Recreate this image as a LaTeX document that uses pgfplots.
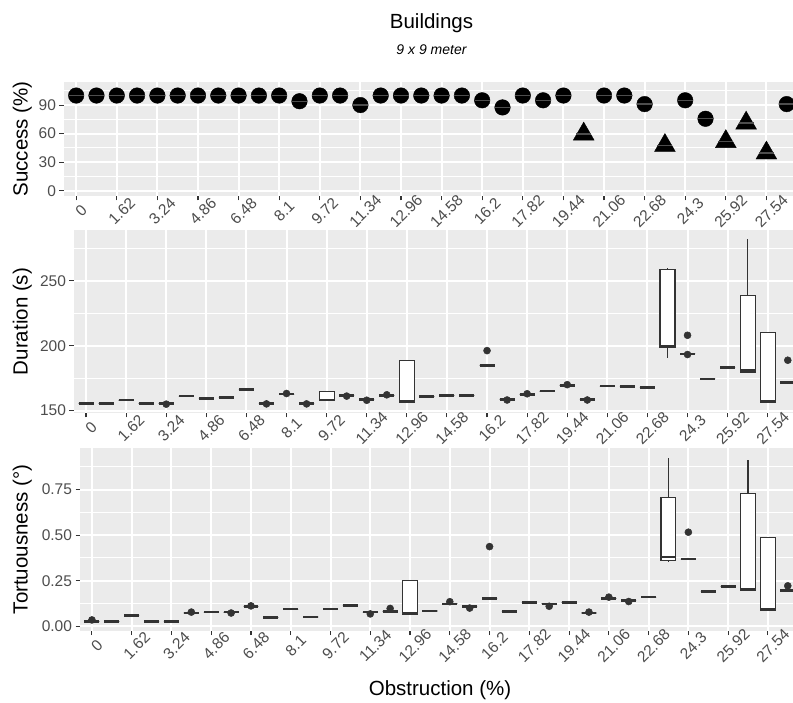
\documentclass[border=0pt]{standalone}
\usepackage{fontspec}
\setmainfont{Liberation Sans}
\usepackage{pgfplots}
\pgfplotsset{compat=1.18}
\usepgfplotslibrary{statistics}
\definecolor{ggbg}{HTML}{EBEBEB}
\definecolor{gg20}{HTML}{333333}
\definecolor{gg30}{HTML}{4D4D4D}
\pgfplotsset{
  ggbase/.style={
    scale only axis,
    anchor=south west,
    xmin=-0.6, xmax=35.6,
    axis background/.style={fill=ggbg},
    axis line style={draw=none},
    tick pos=left,
    tick align=outside,
    major tick length=4.5pt,
    minor tick length=0pt,
    tick style={gg20, line width=1.1pt},
    xmajorgrids, ymajorgrids, yminorgrids,
    major grid style={white, line width=2pt},
    minor grid style={white, line width=1pt},
    xtick={0,2,...,34},
    xticklabels={0,1.62,3.24,4.86,6.48,8.1,9.72,11.34,12.96,14.58,16.2,17.82,19.44,21.06,22.68,24.3,25.92,27.54},
    tick label style={font=\fontsize{15.5}{18}\selectfont, text=gg30},
    x tick label style={xshift=5pt, yshift=-10.5pt, rotate=45, anchor=center},
    y tick label style={anchor=east},
  },
  bxs/.style={draw=gg20, fill=white, line width=1.1pt, solid,
    mark=*, mark size=3.5pt, mark options={fill=gg20, draw=gg20, solid, line width=0.5pt},
    boxplot/draw direction=y,
    boxplot/box extend=0.75, boxplot/whisker extend=0,
    boxplot/every median/.style={line width=2.6pt}},
}
\newcommand{\bb}[6]{\addplot[bxs, boxplot prepared={draw position=#1, lower whisker=#2, lower quartile=#3, median=#4, upper quartile=#5, upper whisker=#6}] coordinates {};}
\newcommand{\bbo}[7]{\addplot[bxs, boxplot prepared={draw position=#1, lower whisker=#2, lower quartile=#3, median=#4, upper quartile=#5, upper whisker=#6}] table[row sep=\\, y index=0] {v\\ #7};}
\newcommand{\bs}[2]{\bb{#1}{#2}{#2}{#2}{#2}{#2}}
\newcommand{\bso}[3]{\bbo{#1}{#2}{#2}{#2}{#2}{#2}{#3}}
\begin{document}
\begin{tikzpicture}[x=1pt,y=1pt]
\useasboundingbox (0,0) rectangle (793,702);
\clip (0,0) rectangle (793,702);
\fill[white] (0,0) rectangle (793,702);
% titles
\node[anchor=base, font=\fontsize{20.5}{24}\selectfont] at (431.5,673.7) {Buildings};
\node[anchor=base, font=\fontsize{14}{17}\selectfont\itshape] at (431.5,647.7) {9 x 9 meter};
\node[anchor=base, rotate=90, font=\fontsize{20.5}{24}\selectfont] at (27.7,563) {Success (\%)};
\node[anchor=base, rotate=90, font=\fontsize{20.5}{24}\selectfont] at (27.7,380.5) {Duration (s)};
\node[anchor=base, rotate=90, font=\fontsize{20.5}{24}\selectfont] at (27.7,162.5) {Tortuousness (°)};
\node[anchor=base, font=\fontsize{20.5}{24}\selectfont] at (440,7) {Obstruction (\%)};

% ---------- Success ----------
\begin{axis}[ggbase, at={(64pt,506pt)}, width=734.9pt, height=113.7pt,
  ymin=-5.5, ymax=113.9, ytick={0,30,60,90}, yticklabels={0,30,60,90},
  minor ytick={15,45,75,105}]
\addplot[only marks, mark=*, mark size=7.8pt, mark options={fill=black, draw=black}] coordinates {
(0,100) (1,100) (2,100) (3,100) (4,100) (5,100) (6,100) (7,100) (8,100) (9,100) (10,100)
(11,94) (12,100) (13,100) (14,90) (15,100) (16,100) (17,100) (18,100) (19,100)
(20,95) (21,87.5) (22,100) (23,95) (24,100) (26,100) (27,100) (28,91)
(30,95) (31,75.6) (35,91)};
\addplot[only marks, mark=triangle*, mark size=12pt, mark options={fill=black, draw=black}] coordinates {
(25,59.5) (29,47.5) (32,51.6) (33,71) (34,39.6)};
\addplot[only marks, mark=-, mark size=7.5pt, mark options={draw=gg30, line width=1.4pt}] coordinates {
(0,100) (1,100) (2,100) (3,100) (4,100) (5,100) (6,100) (7,100) (8,100) (9,100) (10,100)
(11,94) (12,100) (13,100) (14,90) (15,100) (16,100) (17,100) (18,100) (19,100)
(20,95) (21,87.5) (22,100) (23,95) (24,100) (26,100) (27,100) (28,91)
(30,95) (31,75.6) (35,91)
(25,59.5) (29,47.5) (32,51.6) (33,71) (34,39.6)};
\end{axis}

% ---------- Duration ----------
\begin{axis}[ggbase, at={(74pt,289pt)}, width=725.8pt, height=183pt,
  ymin=148.2, ymax=289, ytick={150,200,250}, yticklabels={150,200,250},
  minor ytick={175,225,275}]
\bs{0}{155.4}
\bs{1}{155.4}
\bs{2}{158.1}
\bs{3}{155.4}
\bso{4}{155.4}{155.0\\}
\bs{5}{161.2}
\bs{6}{159.4}
\bs{7}{160.0}
\bs{8}{166.3}
\bso{9}{155.6}{155.2\\}
\bso{10}{162.7}{163.2\\}
\bso{11}{155.6}{155.2\\}
\bb{12}{157.9}{157.9}{158.2}{164.6}{164.6}
\bso{13}{161.7}{161.2\\}
\bso{14}{158.7}{158.0\\}
\bso{15}{161.7}{162.2\\}
\bb{16}{156.6}{156.6}{156.9}{188.8}{188.8}
\bs{17}{160.7}
\bs{18}{161.7}
\bs{19}{161.7}
\bso{20}{184.7}{196.2\\}
\bso{21}{158.7}{158.2\\}
\bso{22}{162.5}{163.0\\}
\bs{23}{165.0}
\bso{24}{169.4}{170.0\\}
\bso{25}{158.7}{158.2\\}
\bs{26}{168.9}
\bs{27}{168.4}
\bs{28}{167.9}
\bb{29}{190.6}{198.3}{199.8}{258.4}{260.1}
\bso{30}{193.7}{208.0\\ 193.2\\}
\bs{31}{174.5}
\bs{32}{183.0}
\bb{33}{179.6}{179.6}{180.9}{238.4}{281.9}
\bb{34}{156.6}{156.6}{157.0}{210.3}{210.3}
\bso{35}{171.5}{188.8\\}
\end{axis}

% ---------- Tortuousness ----------
\begin{axis}[ggbase, at={(80pt,71.3pt)}, width=719.7pt, height=182.4pt,
  ymin=-0.024, ymax=0.976, ytick={0,0.25,0.5,0.75}, yticklabels={0.00,0.25,0.50,0.75},
  minor ytick={0.125,0.375,0.625,0.875}]
\bso{0}{0.027}{0.035\\}
\bs{1}{0.027}
\bs{2}{0.060}
\bs{3}{0.027}
\bs{4}{0.027}
\bso{5}{0.073}{0.078\\}
\bs{6}{0.078}
\bso{7}{0.078}{0.073\\}
\bso{8}{0.109}{0.112\\}
\bs{9}{0.049}
\bs{10}{0.094}
\bs{11}{0.051}
\bs{12}{0.094}
\bs{13}{0.114}
\bso{14}{0.078}{0.068\\}
\bso{15}{0.082}{0.098\\}
\bb{16}{0.067}{0.067}{0.069}{0.250}{0.250}
\bs{17}{0.084}
\bso{18}{0.123}{0.135\\}
\bso{19}{0.109}{0.100\\}
\bso{20}{0.154}{0.437\\}
\bs{21}{0.082}
\bs{22}{0.130}
\bso{23}{0.123}{0.110\\}
\bs{24}{0.130}
\bso{25}{0.073}{0.078\\}
\bso{26}{0.154}{0.160\\}
\bso{27}{0.141}{0.136\\}
\bs{28}{0.160}
\bb{29}{0.353}{0.362}{0.380}{0.707}{0.924}
\bso{30}{0.368}{0.516\\}
\bs{31}{0.190}
\bs{32}{0.217}
\bb{33}{0.196}{0.196}{0.201}{0.730}{0.913}
\bb{34}{0.087}{0.087}{0.092}{0.486}{0.486}
\bso{35}{0.196}{0.222\\}
\end{axis}
\end{tikzpicture}
\end{document}
